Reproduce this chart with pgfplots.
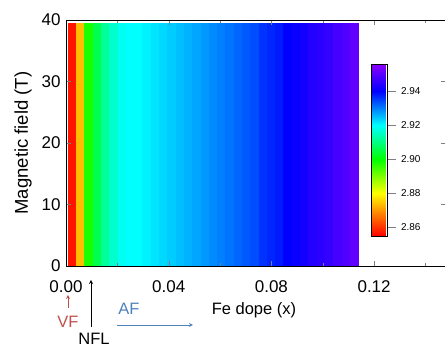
\documentclass[border=0pt]{standalone}
\usepackage{pgfplots}
\pgfplotsset{compat=1.18}
\usepackage{fontspec}
\setmainfont{Liberation Sans}
\definecolor{vfred}{RGB}{192,80,77}
\definecolor{afblue}{RGB}{79,129,189}
\begin{document}
\begin{tikzpicture}
\begin{axis}[
  scale only axis, width=380pt, height=246pt,
  xmin=0, xmax=0.148, ymin=0, ymax=40,
  y dir=normal,
  /pgf/number format/assume math mode=true,
  font=\fontsize{17}{19}\selectfont,
  xtick={0,0.04,0.08,0.12},
  xticklabels={0.00,0.04,0.08,0.12},
  minor xtick={0.02,0.06,0.10,0.14},
  ytick={0,10,20,30,40},
  tick align=inside,
  major tick length=5pt, minor tick length=3pt,
  xticklabel style={yshift=-11pt},
  yticklabel style={xshift=-2pt},
  ylabel={Magnetic field (T)},
  ylabel style={font=\fontsize{18.5}{20}\selectfont, yshift=3pt},
  clip=false,
  axis on top,
  colormap={rb}{rgb255(0pt)=(255,0,0); rgb255(13pt)=(255,128,0); rgb255(25pt)=(255,255,0); rgb255(45pt)=(0,255,0); rgb255(65pt)=(0,255,255); rgb255(85pt)=(0,0,255); rgb255(101pt)=(140,0,255)},
  point meta min=2.855, point meta max=2.956,
  colorbar,
  colorbar style={
    at={(parent axis.north west)}, anchor=north west,
    xshift=297pt, yshift=-44pt,
    scale only axis, width=16pt, height=172pt,
    ytick={2.86,2.88,2.90,2.92,2.94},
    yticklabels={2.86,2.88,2.90,2.92,2.94},
    ytick pos=right, yticklabel pos=right,
    tick align=outside, major tick length=8pt,
    /pgf/number format/assume math mode=true,
    yticklabel style={font=\fontsize{10}{12}\selectfont, xshift=2pt},
  },
]
\addplot[surf, shader=flat corner, mesh/cols=36, point meta=explicit] table[meta=c] {
x y c
0.00080 0 2.857
0.00403 0 2.874
0.00726 0 2.898
0.01049 0 2.906
0.01372 0 2.912
0.01695 0 2.916
0.02018 0 2.919
0.02341 0 2.920
0.02664 0 2.920
0.02987 0 2.921
0.03310 0 2.922
0.03633 0 2.923
0.03956 0 2.924
0.04279 0 2.925
0.04602 0 2.926
0.04925 0 2.927
0.05248 0 2.928
0.05571 0 2.929
0.05894 0 2.930
0.06217 0 2.931
0.06540 0 2.932
0.06863 0 2.933
0.07186 0 2.934
0.07509 0 2.936
0.07832 0 2.937
0.08155 0 2.938
0.08478 0 2.940
0.08801 0 2.941
0.09124 0 2.942
0.09447 0 2.944
0.09770 0 2.945
0.10093 0 2.946
0.10416 0 2.948
0.10739 0 2.949
0.11062 0 2.951
0.11385 0 2.951
0.00080 39.5 2.857
0.00403 39.5 2.874
0.00726 39.5 2.898
0.01049 39.5 2.906
0.01372 39.5 2.912
0.01695 39.5 2.916
0.02018 39.5 2.919
0.02341 39.5 2.920
0.02664 39.5 2.920
0.02987 39.5 2.921
0.03310 39.5 2.922
0.03633 39.5 2.923
0.03956 39.5 2.924
0.04279 39.5 2.925
0.04602 39.5 2.926
0.04925 39.5 2.927
0.05248 39.5 2.928
0.05571 39.5 2.929
0.05894 39.5 2.930
0.06217 39.5 2.931
0.06540 39.5 2.932
0.06863 39.5 2.933
0.07186 39.5 2.934
0.07509 39.5 2.936
0.07832 39.5 2.937
0.08155 39.5 2.938
0.08478 39.5 2.940
0.08801 39.5 2.941
0.09124 39.5 2.942
0.09447 39.5 2.944
0.09770 39.5 2.945
0.10093 39.5 2.946
0.10416 39.5 2.948
0.10739 39.5 2.949
0.11062 39.5 2.951
0.11385 39.5 2.951
};
\end{axis}
\begin{scope}[shift={(current axis.south west)}, x=1pt, y=-1pt, font=\fontsize{16.5}{18}\selectfont]
  \node at (188,44) {Fe dope (x)};
  \draw[vfred, -stealth, thick] (2,42) -- (2,29);
  \node[vfred] at (2,56) {VF};
  \draw[black, -stealth, thick] (25,61) -- (25,14);
  \node at (28,73) {NFL};
  \node[afblue] at (63,43) {AF};
  \draw[afblue, -stealth, thick] (51,59) -- (127,59);
\end{scope}
\pgfresetboundingbox
\path[use as bounding box] ([shift={(-66pt,-81pt)}]current axis.south west) rectangle ([shift={(379pt,20pt)}]current axis.north west);
\end{tikzpicture}
\end{document}
